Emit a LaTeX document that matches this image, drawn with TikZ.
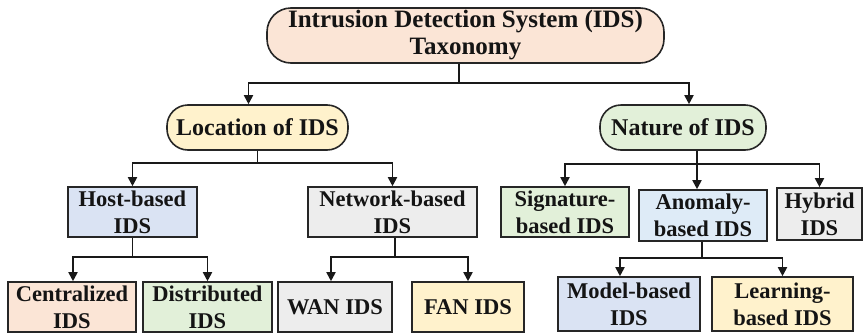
\documentclass[tikz,border=0pt]{standalone}
\usepackage{fontspec}
\setmainfont{Liberation Serif}
\usetikzlibrary{arrows.meta}

\definecolor{cpeach}{HTML}{FBE5D6}
\definecolor{cyellow}{HTML}{FFF2CC}
\definecolor{cgreen}{HTML}{E2F0D9}
\definecolor{cblue}{HTML}{DAE3F3}
\definecolor{cblueb}{HTML}{DEEBF7}
\definecolor{cgray}{HTML}{EDEDED}
\definecolor{cedge}{HTML}{262626}

\tikzset{
  x=1pt, y=-1pt,
  base/.style={draw=cedge, line width=1.6pt, align=center, inner sep=0pt,
               text=black!92},
  pill/.style n args={3}{base, rounded corners=#3pt, minimum width=#1pt,
               minimum height=#2pt},
  box/.style 2 args={base, minimum width=#1pt, minimum height=#2pt,
               font=\fontsize{22.5}{27}\selectfont\bfseries},
  link/.style={draw=black!90, line width=1.8pt},
  arr/.style={link, -{Triangle[length=9pt,width=9pt]}},
}

\begin{document}
\begin{tikzpicture}
\useasboundingbox (0,0) rectangle (865,335);

% top level
\node[pill={397}{55}{24}, fill=cpeach, font=\fontsize{25}{27}\selectfont\bfseries]
  (root) at (465.5,35.5) {Intrusion Detection System (IDS)\\Taxonomy};

% second level
\node[pill={181}{45}{21}, fill=cyellow, font=\fontsize{24}{27}\selectfont\bfseries]
  (loc) at (257.5,127.5) {Location of IDS};
\node[pill={166}{45}{21}, fill=cgreen, font=\fontsize{24}{27}\selectfont\bfseries]
  (nat) at (683,127.5) {Nature of IDS};

% third level
\node[box={129}{50}, fill=cblue]  (host) at (132.5,212) {Host-based\\IDS};
\node[box={169}{50}, fill=cgray]  (net)  at (392.5,212) {Network-based\\IDS};
\node[box={128}{50}, fill=cgreen] (sig)  at (565,212)   {Signature-\\based IDS};
\node[box={128}{51}, fill=cblueb] (ano)  at (703,215.5) {Anomaly-\\based IDS};
\node[box={85}{52},  fill=cgray]  (hyb)  at (819.5,214) {Hybrid\\IDS};

% leaves
\node[box={128}{50}, fill=cpeach]  (cen) at (72,307)    {Centralized\\IDS};
\node[box={129}{50}, fill=cgreen]  (dis) at (207.5,307) {Distributed\\IDS};
\node[box={114}{50}, fill=cgray]   (wan) at (335,307)   {WAN IDS};
\node[box={112}{50}, fill=cyellow] (fan) at (468,307)   {FAN IDS};
\node[box={142}{54}, fill=cblue]   (mod) at (629,304)   {Model-based\\IDS};
\node[box={141}{54}, fill=cyellow] (lea) at (782.5,304) {Learning-\\based IDS};

% root branches
\draw[link] ([xshift=-6.5pt]root.south) -- ++(0,19) coordinate (jr);
\draw[arr] (jr) -| ([xshift=-9pt]loc.north);
\draw[arr] (jr) -| ([xshift=6pt]nat.north);

% location branches
\draw[link] (loc.south) -- ++(0,12) coordinate (jl);
\draw[arr] (jl) -| (host.north);
\draw[arr] (jl) -| (net.north);

% nature branches
\draw[link] ([xshift=14pt]nat.south) -- ++(0,13) coordinate (jn);
\draw[arr] (jn) -| (sig.north);
\draw[arr] (jn) -| ([xshift=-6pt]ano.north);
\draw[arr] (jn) -| (hyb.north);

% host branches
\draw[link] (host.south) -- ++(0,19) coordinate (jh);
\draw[arr] (jh) -| ([xshift=1pt]cen.north);
\draw[arr] (jh) -| (dis.north);

% network branches
\draw[link] ([xshift=2.5pt]net.south) -- ++(0,19) coordinate (jw);
\draw[arr] (jw) -| ([xshift=-4pt]wan.north);
\draw[arr] (jw) -| (fan.north);

% anomaly branches
\draw[link] ([xshift=-1pt]ano.south) -- ++(0,16) coordinate (ja);
\draw[arr] (ja) -| ([xshift=-9pt]mod.north);
\draw[arr] (ja) -| (lea.north);
\end{tikzpicture}
\end{document}
